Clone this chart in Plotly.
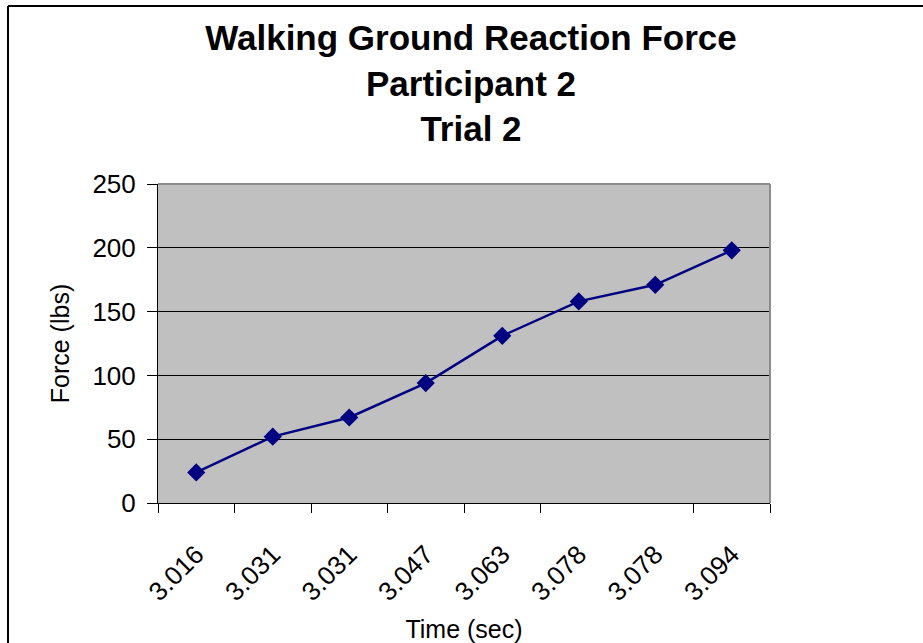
import plotly.graph_objects as go

time_labels = ["3.016", "3.031", "3.031", "3.047", "3.063", "3.078", "3.078", "3.094"]
force_lbs = [24, 52, 67, 94, 131, 158, 171, 198]

positions = list(range(len(time_labels)))
# category boundary ticks (Excel omits the one between the duplicated 3.078 labels)
boundary_ticks = [i - 0.5 for i in range(len(time_labels) + 1) if i != 6]

W, H = 923, 643
L, R, T, B = 158, 153, 184, 140
pw, ph = W - L - R, H - T - B

def px_x(x):
    return (x - L) / pw

def px_y(y):
    return (H - B - y) / ph

fig = go.Figure()
fig.add_trace(go.Scatter(
    x=positions, y=force_lbs, mode="lines+markers",
    line=dict(color="#000080", width=2.5),
    marker=dict(symbol="diamond", size=14, color="#000080"),
    showlegend=False,
))

font = "Liberation Sans, Arial, sans-serif"
fig.update_layout(
    width=W, height=H,
    margin=dict(l=L, r=R, t=T, b=B, autoexpand=False),
    paper_bgcolor="white", plot_bgcolor="#C0C0C0",
    font=dict(family=font, size=25, color="black"),
    title=dict(
        text="<b>Walking Ground Reaction Force<br>Participant 2<br>Trial 2</b>",
        x=471 / W, xanchor="center", y=1 - 50 / H, yanchor="top",
        font=dict(family=font, size=35, color="black"),
    ),
    xaxis=dict(
        range=[-0.5, 7.5], tickmode="array", tickvals=positions, ticktext=time_labels,
        tickangle=-45, ticks="outside", ticklen=9, tickcolor="rgba(0,0,0,0)",
        ticklabelstandoff=16,
        showgrid=False, zeroline=False, showline=True, linecolor="black", linewidth=1,
        minor=dict(tickmode="array", tickvals=boundary_ticks, ticks="outside",
                   ticklen=9, tickcolor="black", tickwidth=1, showgrid=False),
        title=dict(text="Time (sec)", standoff=22, font=dict(size=25)),
        tickfont=dict(size=26), fixedrange=True, automargin=False,
    ),
    yaxis=dict(
        range=[0, 250], tickmode="linear", tick0=0, dtick=50,
        ticks="outside", ticklen=10, tickcolor="black", ticklabelstandoff=6,
        showgrid=True, gridcolor="black", gridwidth=1, zeroline=False,
        showline=True, linecolor="black", linewidth=1,
        title=dict(text="Force (lbs)", standoff=15, font=dict(size=25)),
        tickfont=dict(size=26), fixedrange=True, automargin=False,
    ),
    shapes=[
        # plot area top/right border (gray)
        dict(type="line", xref="paper", yref="paper", x0=0, x1=1, y0=1, y1=1,
             line=dict(color="#8c8c8c", width=2)),
        dict(type="line", xref="paper", yref="paper", x0=1, x1=1, y0=0, y1=1,
             line=dict(color="#8c8c8c", width=2)),
        # chart outer frame (left and top edges visible)
        dict(type="line", xref="paper", yref="paper",
             x0=px_x(8), x1=px_x(8), y0=px_y(660), y1=px_y(6),
             line=dict(color="black", width=2), layer="above"),
        dict(type="line", xref="paper", yref="paper",
             x0=px_x(8), x1=px_x(940), y0=px_y(6), y1=px_y(6),
             line=dict(color="black", width=2), layer="above"),
    ],
)

fig.write_html("out.html", config={"displayModeBar": False},
               post_script="document.body.style.margin='0';")
